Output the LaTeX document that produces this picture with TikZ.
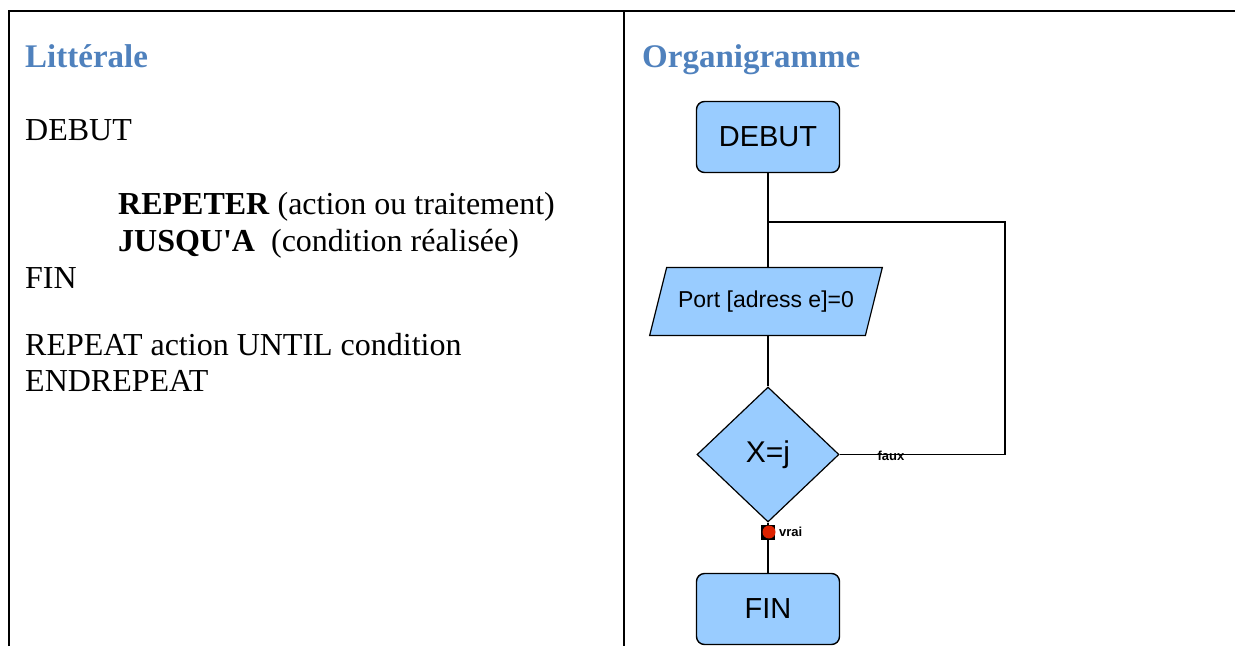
\documentclass[tikz,border=0pt]{standalone}
\usepackage{fontspec}
\setmainfont{Liberation Serif}
\newfontfamily\bodyfont{Liberation Serif}
\newfontfamily\flowfont{Liberation Sans}
\usetikzlibrary{shapes.geometric}
\definecolor{headblue}{HTML}{4F81BD}
\definecolor{boxblue}{HTML}{99CCFF}
\definecolor{dotred}{HTML}{DD2200}
\begin{document}
\begin{tikzpicture}[x=1pt,y=-1pt,
  frame/.style={line width=2pt,black},
  heading/.style={anchor=base west,inner sep=0pt,text=headblue,font=\bodyfont\fontsize{33}{38}\selectfont\bfseries},
  bodytext/.style={anchor=base west,inner sep=0pt,font=\bodyfont\fontsize{32}{36}\selectfont},
  flowline/.style={line width=1.4pt,black},
  term/.style={draw,line width=1.4pt,fill=boxblue,rounded corners=8pt,minimum width=143pt,minimum height=71pt,inner sep=0pt,font=\flowfont\fontsize{29}{32}\selectfont},
  iobox/.style={draw,line width=1.2pt,fill=boxblue,trapezium,trapezium left angle=55,trapezium right angle=125,trapezium stretches=true,minimum width=233pt,minimum height=68pt,inner sep=0pt,font=\flowfont\fontsize{23}{26}\selectfont},
  decision/.style={draw,line width=1.2pt,fill=boxblue,diamond,minimum width=142pt,minimum height=135pt,inner sep=0pt,font=\flowfont\fontsize{30}{34}\selectfont},
  tinylabel/.style={inner sep=0pt,font=\flowfont\fontsize{13}{14}\selectfont\bfseries}
]
\useasboundingbox (0,0) rectangle (1235,646);
% table frame
\draw[frame] (9,646) -- (9,11) -- (1235,11);
\draw[frame] (624,11) -- (624,646);
% left column
\node[heading] (h1) at (25,67) {Littérale};
\node[bodytext] (t1) at (25,140) {DEBUT};
\node[bodytext] (t2) at (118,214) {\textbf{REPETER} (action ou traitement)};
\node[bodytext] (t3) at (118,251) {\textbf{JUSQU'A}~~(condition réalisée)};
\node[bodytext] (t4) at (25,288) {FIN};
\node[bodytext] (t5) at (25,355) {REPEAT action UNTIL condition};
\node[bodytext] (t6) at (25,391) {ENDREPEAT};
% right column
\node[heading] (h2) at (642,67) {Organigramme};
\node[term] (debut) at (768,137) {DEBUT};
\node[iobox] (port) at (766,301.5) {Port [adress e]=0};
\node[decision] (test) at (768,454.5) {X=j};
\node[term] (fin) at (768,609) {FIN};
\coordinate (join) at (768,222);
\coordinate (loopTR) at (1005,222);
\coordinate (loopBR) at (1005,454.5);
\draw[flowline] (debut.south) -- (join) -- (join |- port.north);
\draw[flowline] (join) -- (loopTR) -- (loopBR) -- (test.east);
\draw[flowline] (port.south -| test.north) -- (test.north);
\draw[flowline] (test.south) -- (fin.north);
\node[tinylabel] (faux) at (891,456) {faux};
\draw[line width=1pt,fill=black] (761,525) rectangle (774,539);
\node[circle,fill=dotred,minimum size=13pt,inner sep=0pt] (dot) at (769,532) {};
\node[tinylabel,anchor=west] (vrai) at (779,532) {vrai};
\end{tikzpicture}
\end{document}
